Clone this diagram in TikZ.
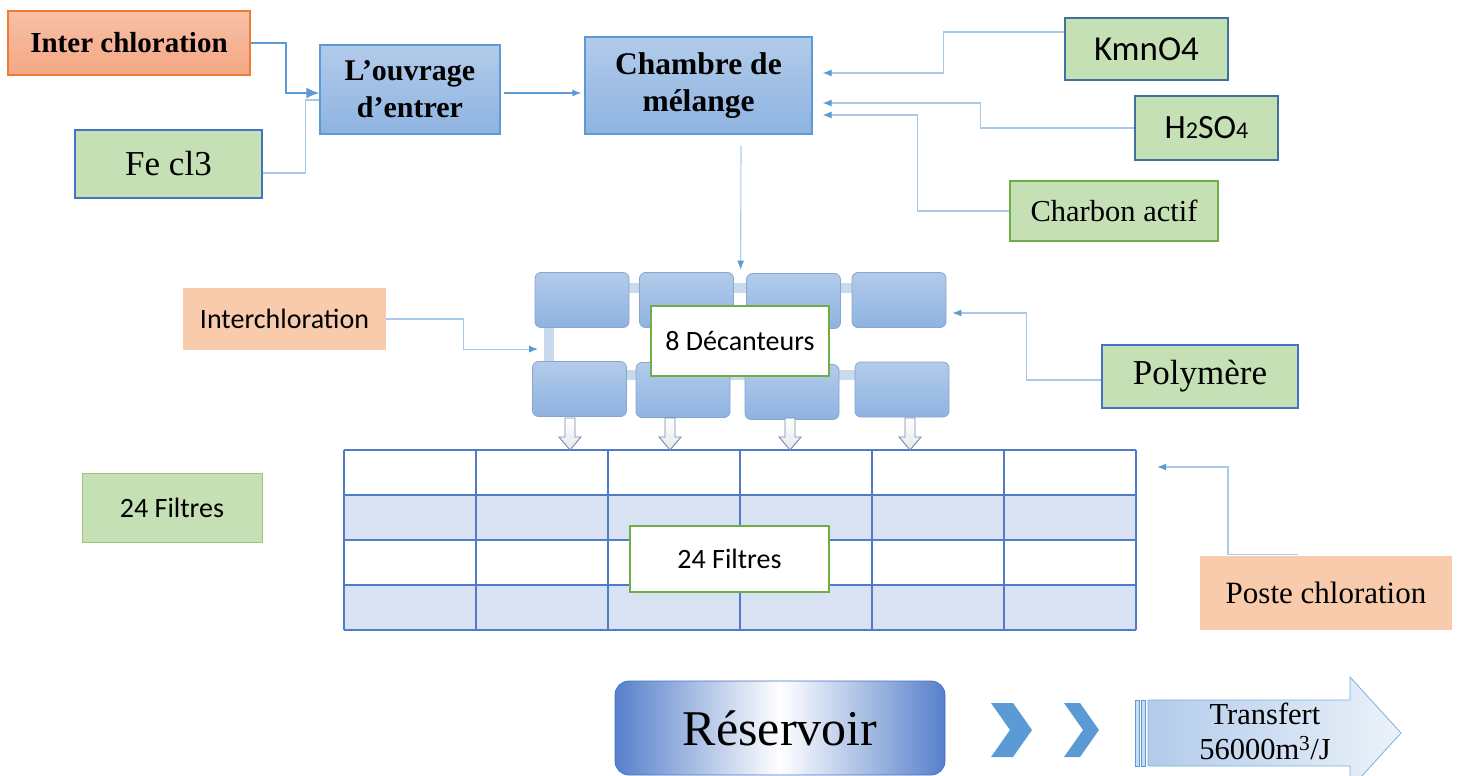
\documentclass[tikz,border=0pt]{standalone}
\usepackage{fontspec}
\setmainfont{Liberation Serif}
\newfontfamily\calib{Carlito}
\usetikzlibrary{arrows.meta}
\definecolor{gfill}{HTML}{C5E0B4}
\definecolor{gbdr}{HTML}{70AD47}
\definecolor{bbdr}{HTML}{4472C4}
\definecolor{dbdr}{HTML}{41719C}
\definecolor{btop}{HTML}{B2CBEA}
\definecolor{bbot}{HTML}{8EB3E1}
\definecolor{bline}{HTML}{5B9BD5}
\definecolor{lline}{HTML}{A9C9EC}
\definecolor{otop}{HTML}{F8C0A6}
\definecolor{obot}{HTML}{F4A784}
\definecolor{obdr}{HTML}{ED7D31}
\definecolor{peach}{HTML}{F8CBAD}
\definecolor{bar}{HTML}{CADAEE}
\definecolor{decbdr}{HTML}{8AA5CB}
\definecolor{rowblue}{HTML}{D9E2F3}
\definecolor{grid}{HTML}{4F7BC8}
\definecolor{dnbdr}{HTML}{6F8DB5}
\begin{document}
\begin{tikzpicture}[x=1pt,y=-1pt,
  box/.style={draw, line width=1.2pt, inner sep=0pt, align=center},
  greenbox/.style={box, fill=gfill},
  bluebox/.style={box, draw=bline, top color=btop, bottom color=bbot},
  peachbox/.style={inner sep=0pt, fill=peach, align=center},
  whitebox/.style={box, draw=gbdr, fill=white},
  dec/.style={draw=decbdr, line width=0.8pt, rounded corners=6pt, top color=btop, bottom color=bbot, minimum width=94pt, minimum height=55pt, inner sep=0pt},
  conn/.style={draw=lline, line width=1.1pt, -{Latex[length=9pt,width=7pt,color=bline]}},
  plain/.style={draw=lline, line width=1.1pt},
  cal/.style={font=\calib\fontsize{28}{31}\selectfont}
]
\useasboundingbox (0,0) rectangle (1457,776);
\clip (0,0) rectangle (1457,776);
\fill[white] (0,0) rectangle (1457,776);

% ---- top row ----
\node[box, draw=obdr, top color=otop, bottom color=obot, minimum width=242pt, minimum height=64pt, font=\bfseries\fontsize{29}{33}\selectfont] (inter) at (129,43) {Inter chloration};
\node[bluebox, minimum width=180pt, minimum height=89pt, font=\bfseries\fontsize{30}{37}\selectfont] (ouv) at (410,89.5) {L’ouvrage\\d’entrer};
\node[greenbox, draw=bbdr, minimum width=187pt, minimum height=68pt, font=\fontsize{35}{40}\selectfont] (fe) at (168.5,164) {Fe cl3};
\node[bluebox, minimum width=227pt, minimum height=97pt, font=\bfseries\fontsize{31.5}{37}\selectfont] (ch) at (698.5,85.5) {Chambre de\\mélange};
\node[greenbox, draw=dbdr, minimum width=163pt, minimum height=62pt, font=\calib\fontsize{35}{38}\selectfont] (kmn) at (1146.5,49) {KmnO4};
\node[greenbox, draw=dbdr, minimum width=143pt, minimum height=64pt, font=\calib\fontsize{34}{37}\selectfont] (h2) at (1206.5,128) {H{\fontsize{24}{26}\selectfont 2}SO{\fontsize{24}{26}\selectfont 4}};
\node[greenbox, draw=gbdr, minimum width=208pt, minimum height=60pt, font=\fontsize{30.5}{34}\selectfont] (charb) at (1114,211) {Charbon actif};

\draw[draw=bline, line width=2.2pt, -{Latex[length=13pt,width=11pt]}] (inter.east) -- ++(35,0) |- ([yshift=-3.5pt]ouv.west);
\draw[plain] ([yshift=-9pt]fe.east) -- ++(43,0) |- ([yshift=-10.5pt]ouv.west);
\draw[draw=bline, line width=1.3pt, -{Latex[length=9pt,width=7pt]}] ([xshift=3pt,yshift=-3.5pt]ouv.east) -- ([xshift=-3pt,yshift=-7.5pt]ch.west);
\draw[conn] ([yshift=17pt]kmn.west) -- ++(-121,0) |- ([xshift=10pt,yshift=12.5pt]ch.east);
\draw[conn] (h2.west) -- ++(-154,0) |- ([xshift=10pt,yshift=-17.5pt]ch.east);
\draw[conn] (charb.west) -- ++(-92,0) |- ([xshift=10pt,yshift=-29.5pt]ch.east);

% ---- decanters ----
\fill[bar] (600,283) rectangle (880,293);
\fill[bar] (544,320) rectangle (554,370);
\fill[bar] (600,370) rectangle (880,380);
\node[dec] (d1) at (582,300) {};
\node[dec] (d2) at (686.5,300) {};
\node[dec] (d3) at (793.5,301) {};
\node[dec] (d4) at (899,300) {};
\node[dec] (d5) at (579.5,389) {};
\node[dec] (d6) at (683,390) {};
\node[dec] (d7) at (792,392) {};
\node[dec] (d8) at (902,389.5) {};
\node[whitebox, minimum width=178pt, minimum height=70pt, cal] (dect) at (740,341) {8 Décanteurs};

\draw[conn] ([xshift=42.5pt,yshift=-11pt]ch.south) -- ([xshift=-5.5pt,yshift=3.5pt]d3.north west);

\node[peachbox, minimum width=203pt, minimum height=62pt, cal] (ic) at (284.5,319) {Interchloration};
\draw[conn] (ic.east) -- ++(77,0) |- ([xshift=6pt,yshift=12pt]d5.north west);

\node[greenbox, draw=bbdr, minimum width=196pt, minimum height=63pt, font=\fontsize{35}{40}\selectfont] (poly) at (1200,376.5) {Polymère};
\draw[conn] ([yshift=-3.5pt]poly.west) -- ++(-75,0) |- ([xshift=6pt,yshift=-13pt]d4.east);

% ---- table ----
\node[minimum width=792pt, minimum height=180pt, inner sep=0pt] (tbl) at (740,540) {};
\fill[rowblue] (344,495) rectangle (1136,540);
\fill[rowblue] (344,585) rectangle (1136,630);
\foreach \i in {0,...,6} {\draw[grid, line width=1.3pt] (344+132*\i,450) -- (344+132*\i,630);}
\foreach \j in {450,540,585,630} {\draw[grid, line width=1.3pt] (344,\j) -- (1136,\j);}
\draw[grid, line width=2.6pt] (344,495) -- (1136,495);

% down arrows
\foreach \xx in {570,670,790,910} {
  \draw[dnbdr, line width=0.9pt, top color=white, bottom color=gray!18]
    (\xx-5,418) -- (\xx+5,418) -- (\xx+5,437) -- (\xx+11,437) -- (\xx,450) -- (\xx-11,437) -- (\xx-5,437) -- cycle;
}

\node[whitebox, minimum width=199pt, minimum height=66pt, cal] (filt) at (729.5,559) {24 Filtres};
\node[greenbox, draw=gbdr!70, line width=1pt, minimum width=180pt, minimum height=69pt, cal] (filtl) at (172,507.5) {24 Filtres};

\node[peachbox, minimum width=252pt, minimum height=74pt, font=\fontsize{31}{35}\selectfont] (pc) at (1326,593) {Poste chloration};
\draw[conn] ([xshift=-28pt,yshift=1pt]pc.north) -- ++(-70,0) |- ([xshift=21pt,yshift=73pt]tbl.east);

% ---- bottom ----
\node[draw=bbdr, line width=0.8pt, rounded corners=14pt, minimum width=330pt, minimum height=94pt, left color=bbdr!90, right color=bbdr!90, middle color=white, font=\fontsize{50}{56}\selectfont] (res) at (780,728) {Réservoir};

\fill[bline] (991,703) -- (1013,703) -- (1032,730) -- (1013,757) -- (991,757) -- (1010,730) -- cycle;
\fill[bline] (1064,703) -- (1080,703) -- (1099,730) -- (1080,757) -- (1064,757) -- (1083,730) -- cycle;

\draw[bline, line width=0.8pt, fill=btop!70] (1135,700) rectangle (1139,766);
\draw[bline, line width=0.8pt, fill=btop!70] (1141,700) rectangle (1145,766);
\shade[left color=btop, right color=btop!25] (1148,700) -- (1350,700) -- (1350,677) -- (1401,733) -- (1350,789) -- (1350,766) -- (1148,766) -- cycle;
\draw[bline!80, line width=0.8pt] (1148,700) -- (1350,700) -- (1350,677) -- (1401,733) -- (1350,789) -- (1350,766) -- (1148,766) -- cycle;
\node[align=center, font=\fontsize{30.5}{35}\selectfont] (tr) at (1265,731) {Transfert\\56000m\textsuperscript{3}/J};
\end{tikzpicture}
\end{document}
